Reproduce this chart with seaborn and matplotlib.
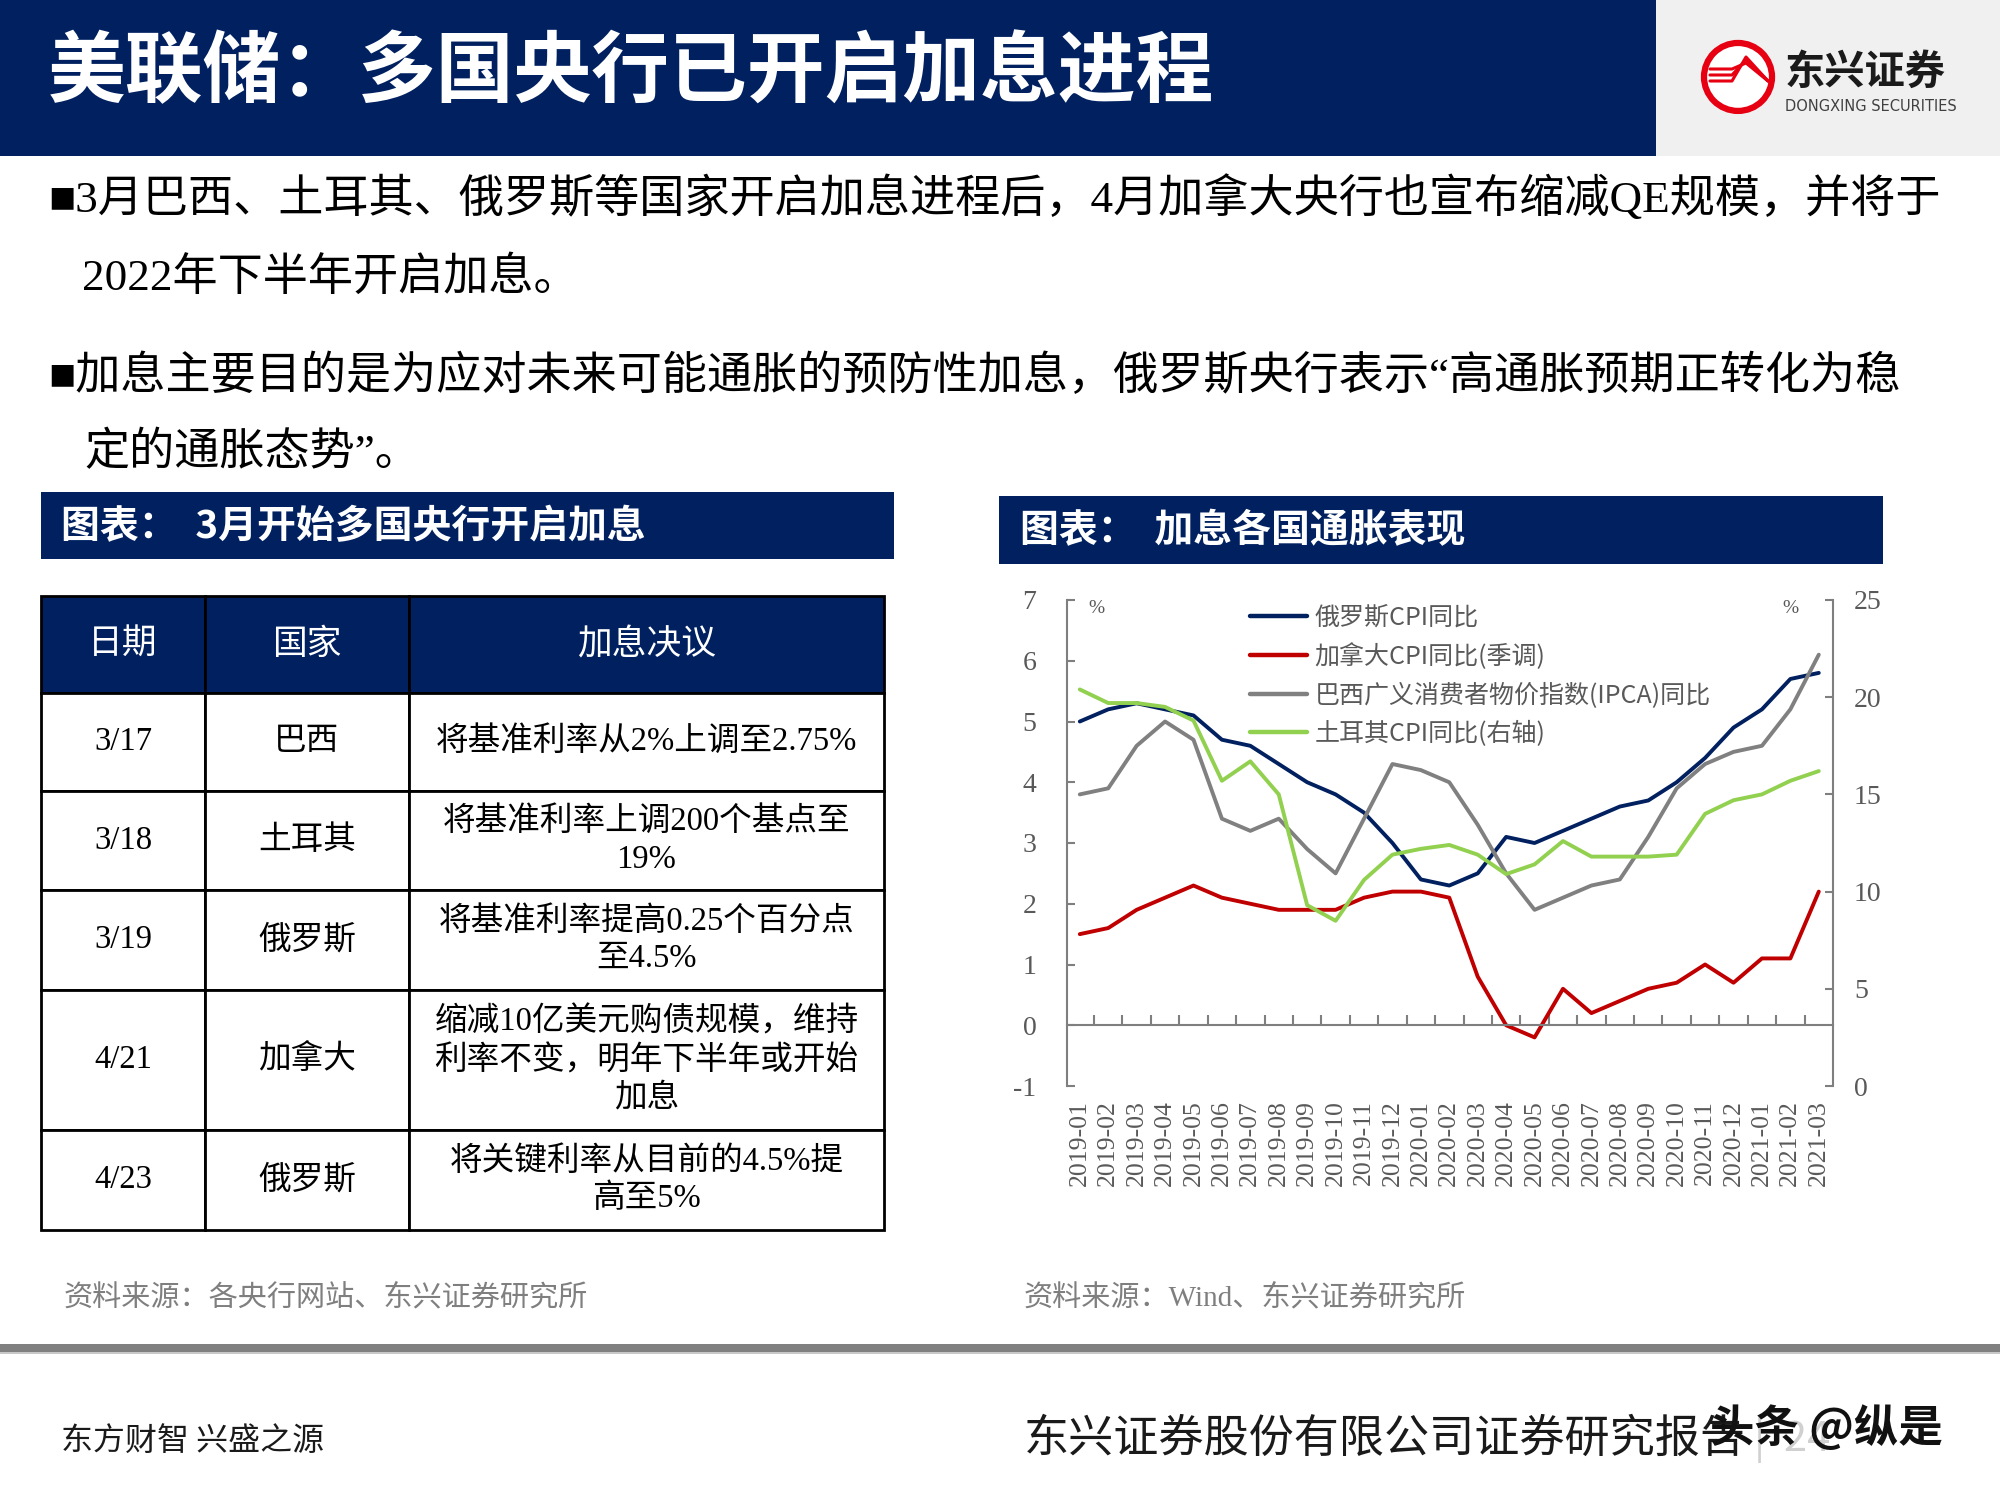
import numpy as np
import pandas as pd
import seaborn as sns
import matplotlib.pyplot as plt
from matplotlib.patches import Rectangle, Ellipse
from matplotlib.lines import Line2D

# ---- line chart data ----
months = ['2019-01', '2019-02', '2019-03', '2019-04', '2019-05', '2019-06',
          '2019-07', '2019-08', '2019-09', '2019-10', '2019-11', '2019-12',
          '2020-01', '2020-02', '2020-03', '2020-04', '2020-05', '2020-06',
          '2020-07', '2020-08', '2020-09', '2020-10', '2020-11', '2020-12',
          '2021-01', '2021-02', '2021-03']
russia_cpi = [5.0, 5.2, 5.3, 5.2, 5.1, 4.7, 4.6, 4.3, 4.0, 3.8, 3.5, 3.0,
              2.4, 2.3, 2.5, 3.1, 3.0, 3.2, 3.4, 3.6, 3.7, 4.0, 4.4, 4.9,
              5.2, 5.7, 5.8]
canada_cpi = [1.5, 1.6, 1.9, 2.1, 2.3, 2.1, 2.0, 1.9, 1.9, 1.9, 2.1, 2.2,
              2.2, 2.1, 0.8, 0.0, -0.2, 0.6, 0.2, 0.4, 0.6, 0.7, 1.0, 0.7,
              1.1, 1.1, 2.2]
brazil_ipca = [3.8, 3.9, 4.6, 5.0, 4.7, 3.4, 3.2, 3.4, 2.9, 2.5, 3.4, 4.3,
               4.2, 4.0, 3.3, 2.5, 1.9, 2.1, 2.3, 2.4, 3.1, 3.9, 4.3, 4.5,
               4.6, 5.2, 6.1]
turkey_cpi = [20.4, 19.7, 19.7, 19.5, 18.8, 15.7, 16.7, 15.0, 9.3, 8.5, 10.6, 11.9,
              12.2, 12.4, 11.9, 10.9, 11.4, 12.6, 11.8, 11.8, 11.8, 11.9, 14.0, 14.7,
              15.0, 15.7, 16.2]
series_names = ['俄罗斯CPI同比', '加拿大CPI同比(季调)',
                '巴西广义消费者物价指数(IPCA)同比', '土耳其CPI同比(右轴)']
left_ticks = [-1, 0, 1, 2, 3, 4, 5, 6, 7]
right_ticks = [0, 5, 10, 15, 20, 25]

# ---- table data ----
tbl_header = ['日期', '国家', '加息决议']
tbl_dates = ['3/17', '3/18', '3/19', '4/21', '4/23']
tbl_countries = ['巴西', '土耳其', '俄罗斯', '加拿大', '俄罗斯']
tbl_decisions = ['将基准利率从2%上调至2.75%',
                 '将基准利率上调200个基点至\n19%',
                 '将基准利率提高0.25个百分点\n至4.5%',
                 '缩减10亿美元购债规模，维持\n利率不变，明年下半年或开始\n加息',
                 '将关键利率从目前的4.5%提\n高至5%']

# ---- slide text ----
title = '美联储：多国央行已开启加息进程'
bullet_lines = ['■3月巴西、土耳其、俄罗斯等国家开启加息进程后，4月加拿大央行也宣布缩减QE规模，并将于',
                '2022年下半年开启加息。',
                '■加息主要目的是为应对未来可能通胀的预防性加息，俄罗斯央行表示“高通胀预期正转化为稳',
                '定的通胀态势”。']
left_caption = '图表：  3月开始多国央行开启加息'
right_caption = '图表：  加息各国通胀表现'
left_source = '资料来源：各央行网站、东兴证券研究所'
right_source = '资料来源：Wind、东兴证券研究所'

NAVY = '#002060'
RED = '#c00000'
GREY = '#808080'
GREEN = '#92d050'
AXGREY = '#7f7f7f'
TXTGREY = '#595959'
SANS = ['Noto Sans CJK SC', 'DejaVu Sans']
SERIF = ['Liberation Serif', 'Noto Sans CJK SC', 'DejaVu Sans']

sns.set_theme(style='white')
plt.rcParams['font.family'] = SANS
plt.rcParams['axes.unicode_minus'] = True

fig = plt.figure(figsize=(20, 15), dpi=100)
fig.patch.set_facecolor('white')

# header band + logo area
fig.add_artist(Rectangle((0, 0.896), 0.828, 0.104, transform=fig.transFigure,
                         facecolor=NAVY, edgecolor='none', zorder=0))
fig.add_artist(Rectangle((0.828, 0.896), 0.172, 0.104, transform=fig.transFigure,
                         facecolor='#f0f0f0', edgecolor='none', zorder=0))
fig.text(0.024, 0.951, title, color='white', fontsize=56, fontweight='bold',
         va='center', ha='left')

# logo
fig.add_artist(Ellipse((0.869, 0.9487), 0.034, 0.0453, transform=fig.transFigure,
                       facecolor='white', edgecolor='#e60012', lw=4.5))
for dy in [0.0, 0.004, 0.008]:
    fig.add_artist(Line2D([0.855, 0.866, 0.873, 0.884],
                          [0.946 + dy, 0.946 + dy, 0.962 - dy / 2, 0.946],
                          transform=fig.transFigure, color='#e60012', lw=2.2))
fig.text(0.8925, 0.952, '东兴证券', fontsize=29, fontweight='bold',
         color='#1a1a1a', va='center', ha='left')
fig.text(0.8925, 0.9287, 'DONGXING SECURITIES', fontsize=10.5, color='#404040',
         va='center', ha='left', family=['DejaVu Sans'])

# bullet paragraphs
bullet_pos = [(0.024, 0.868), (0.041, 0.8153), (0.024, 0.7493), (0.042, 0.698)]
for (bx, by), line in zip(bullet_pos, bullet_lines):
    fig.text(bx, by, line, fontsize=32.5, color='black', va='center', ha='left',
             family=SERIF)

# caption bars
fig.add_artist(Rectangle((0.0205, 0.6273), 0.4265, 0.0447, transform=fig.transFigure,
                         facecolor=NAVY, edgecolor='none'))
fig.text(0.0305, 0.6487, left_caption, color='white', fontsize=28,
         fontweight='bold', va='center', ha='left')
fig.add_artist(Rectangle((0.4995, 0.624), 0.442, 0.0453, transform=fig.transFigure,
                         facecolor=NAVY, edgecolor='none'))
fig.text(0.51, 0.646, right_caption, color='white', fontsize=28,
         fontweight='bold', va='center', ha='left')

# ---- table ----
tab_ax = fig.add_axes([0.0205, 0.18, 0.4215, 0.4227])
tab_ax.axis('off')
cell_text = [[d, c, r] for d, c, r in zip(tbl_dates, tbl_countries, tbl_decisions)]
col_w = [164, 204, 475]
row_h = [97, 98, 99, 100, 140, 100]
table = tab_ax.table(cellText=cell_text, colLabels=tbl_header, cellLoc='center',
                     colWidths=[w / sum(col_w) for w in col_w], bbox=[0, 0, 1, 1])
table.auto_set_font_size(False)
for (r, c), cell in table.get_celld().items():
    cell.set_height(row_h[r] / sum(row_h))
    cell.set_edgecolor('black')
    cell.set_linewidth(2.0)
    txt = cell.get_text()
    txt.set_linespacing(1.3)
    if r == 0:
        cell.set_facecolor(NAVY)
        txt.set_color('white')
        txt.set_fontsize(25)
        txt.set_fontfamily(SANS)
    else:
        cell.set_facecolor('white')
        txt.set_color('black')
        txt.set_fontsize(23.5)
        txt.set_fontfamily(SERIF)

# ---- line chart ----
df = pd.DataFrame({'idx': np.arange(len(months)), 'month': months,
                   'russia': russia_cpi, 'canada': canada_cpi,
                   'brazil': brazil_ipca, 'turkey': turkey_cpi})

ax = fig.add_axes([0.5335, 0.276, 0.383, 0.324])
sns.lineplot(data=df, x='idx', y='russia', ax=ax, color=NAVY, lw=2.8,
             label=series_names[0], legend=False)
sns.lineplot(data=df, x='idx', y='canada', ax=ax, color=RED, lw=2.8,
             label=series_names[1], legend=False)
sns.lineplot(data=df, x='idx', y='brazil', ax=ax, color=GREY, lw=2.8,
             label=series_names[2], legend=False)

ax2 = ax.twinx()
sns.lineplot(data=df, x='idx', y='turkey', ax=ax2, color=GREEN, lw=2.8,
             label=series_names[3], legend=False)

ax.set_ylim(-1, 7)
ax.set_xlim(-0.45, 26.5)
ax.set_xlabel('')
ax.set_ylabel('')
ax.set_yticks(left_ticks)
ax.set_yticklabels([str(t) for t in left_ticks])
ax.set_xticks(df['idx'])
ax.set_xticklabels(df['month'])
ax.set_xticks(np.arange(0.5, len(months) - 1, 1), minor=True)
ax.spines['top'].set_visible(False)
ax.spines['right'].set_visible(False)
ax.spines['left'].set_color(AXGREY)
ax.spines['left'].set_linewidth(1.5)
ax.spines['bottom'].set_position(('data', 0))
ax.spines['bottom'].set_color(AXGREY)
ax.spines['bottom'].set_linewidth(1.5)
ax.tick_params(axis='y', direction='in', length=6, width=1.5, color=AXGREY,
               labelcolor=TXTGREY, labelsize=20, pad=22, left=True)
ax.tick_params(axis='x', which='major', length=0, pad=54, labelsize=18.5,
               labelcolor=TXTGREY, labelrotation=90, bottom=True)
ax.tick_params(axis='x', which='minor', direction='in', length=7, width=1.5,
               color=AXGREY, bottom=True)
ax.set_facecolor('none')

ax2.set_ylim(0, 25)
ax2.set_ylabel('')
ax2.set_yticks(right_ticks)
ax2.set_yticklabels([str(t) for t in right_ticks])
for side in ['top', 'left', 'bottom']:
    ax2.spines[side].set_visible(False)
ax2.spines['right'].set_color(AXGREY)
ax2.spines['right'].set_linewidth(1.5)
ax2.tick_params(axis='y', direction='in', length=6, width=1.5, color=AXGREY,
                labelcolor=TXTGREY, labelsize=20, pad=15, right=True)

handles = ax.get_lines()[:3] + ax2.get_lines()[:1]
leg = ax2.legend(handles, series_names, loc='upper left',
                 bbox_to_anchor=(0.2386, 0.99), frameon=False, borderpad=0,
                 borderaxespad=0, handlelength=2.3, handletextpad=0.3,
                 labelspacing=0.5, fontsize=18)
for t in leg.get_texts():
    t.set_color(TXTGREY)
for h in leg.get_lines():
    h.set_linewidth(3.2)

ax.text(0.038, 0.983, '%', transform=ax.transAxes, fontsize=14, color=TXTGREY,
        ha='center', va='center', family=SERIF)
ax.text(0.944, 0.983, '%', transform=ax.transAxes, fontsize=14, color=TXTGREY,
        ha='center', va='center', family=SERIF)

# sources
fig.text(0.032, 0.1347, left_source, fontsize=21, color=AXGREY, va='center',
         ha='left', family=SERIF)
fig.text(0.512, 0.1347, right_source, fontsize=21, color=AXGREY, va='center',
         ha='left', family=SERIF)

# footer
fig.add_artist(Rectangle((0, 0.0987), 1, 0.0053, transform=fig.transFigure,
                         facecolor='#808080', edgecolor='none'))
fig.add_artist(Rectangle((0, 0.0973), 1, 0.0014, transform=fig.transFigure,
                         facecolor='#c8c8c8', edgecolor='none'))
fig.text(0.0305, 0.0393, '东方财智 兴盛之源', fontsize=23, color='#1a1a1a',
         va='center', ha='left')
fig.text(0.512, 0.0407, '东兴证券股份有限公司证券研究报告', fontsize=32.5,
         color='#1a1a1a', va='center', ha='left')
fig.text(0.877, 0.040, '|  24', fontsize=30, color='#d0d0d0', va='center', ha='left')
fig.text(0.855, 0.047, '头条 @纵是', fontsize=32, color='#111111',
         va='center', ha='left', fontweight='bold')

# serif numerals on the chart axes (set last so every tick label gets it)
for lbl in ax.get_xticklabels() + ax.get_yticklabels() + ax2.get_yticklabels():
    lbl.set_fontfamily(SERIF)

fig.savefig('out.png', dpi=100)
